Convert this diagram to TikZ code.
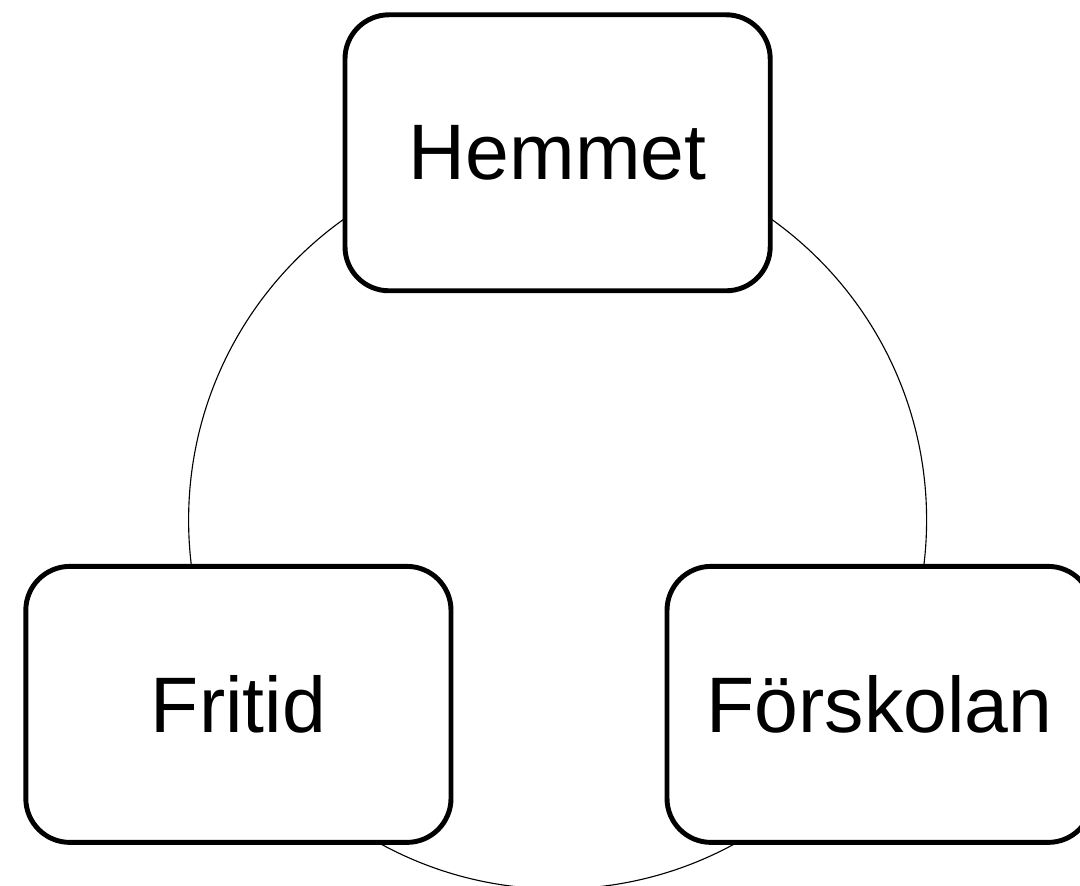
\documentclass[tikz,border=0pt]{standalone}
\usepackage{fontspec}
\setmainfont{Liberation Sans}
\tikzset{
    place/.style={draw, fill=white, rectangle, rounded corners=1.1cm, line width=3.5pt,
        minimum width=10.63cm, minimum height=6.9cm,
        font=\fontsize{56}{60}\selectfont},
}
\begin{document}
\begin{tikzpicture}
    \useasboundingbox (0,0) rectangle (27,22.15);
    \coordinate (centre) at (13.94,9.15);
    \draw[line width=0.8pt] (centre) circle (9.225cm);
    \node[place] (hemmet) at (13.94,18.33) {Hemmet};
    \node[place] (fritid) at (5.96,4.54) {Fritid};
    \node[place] (forskolan) at (21.99,4.54) {Förskolan};
  \end{tikzpicture}
\end{document}
